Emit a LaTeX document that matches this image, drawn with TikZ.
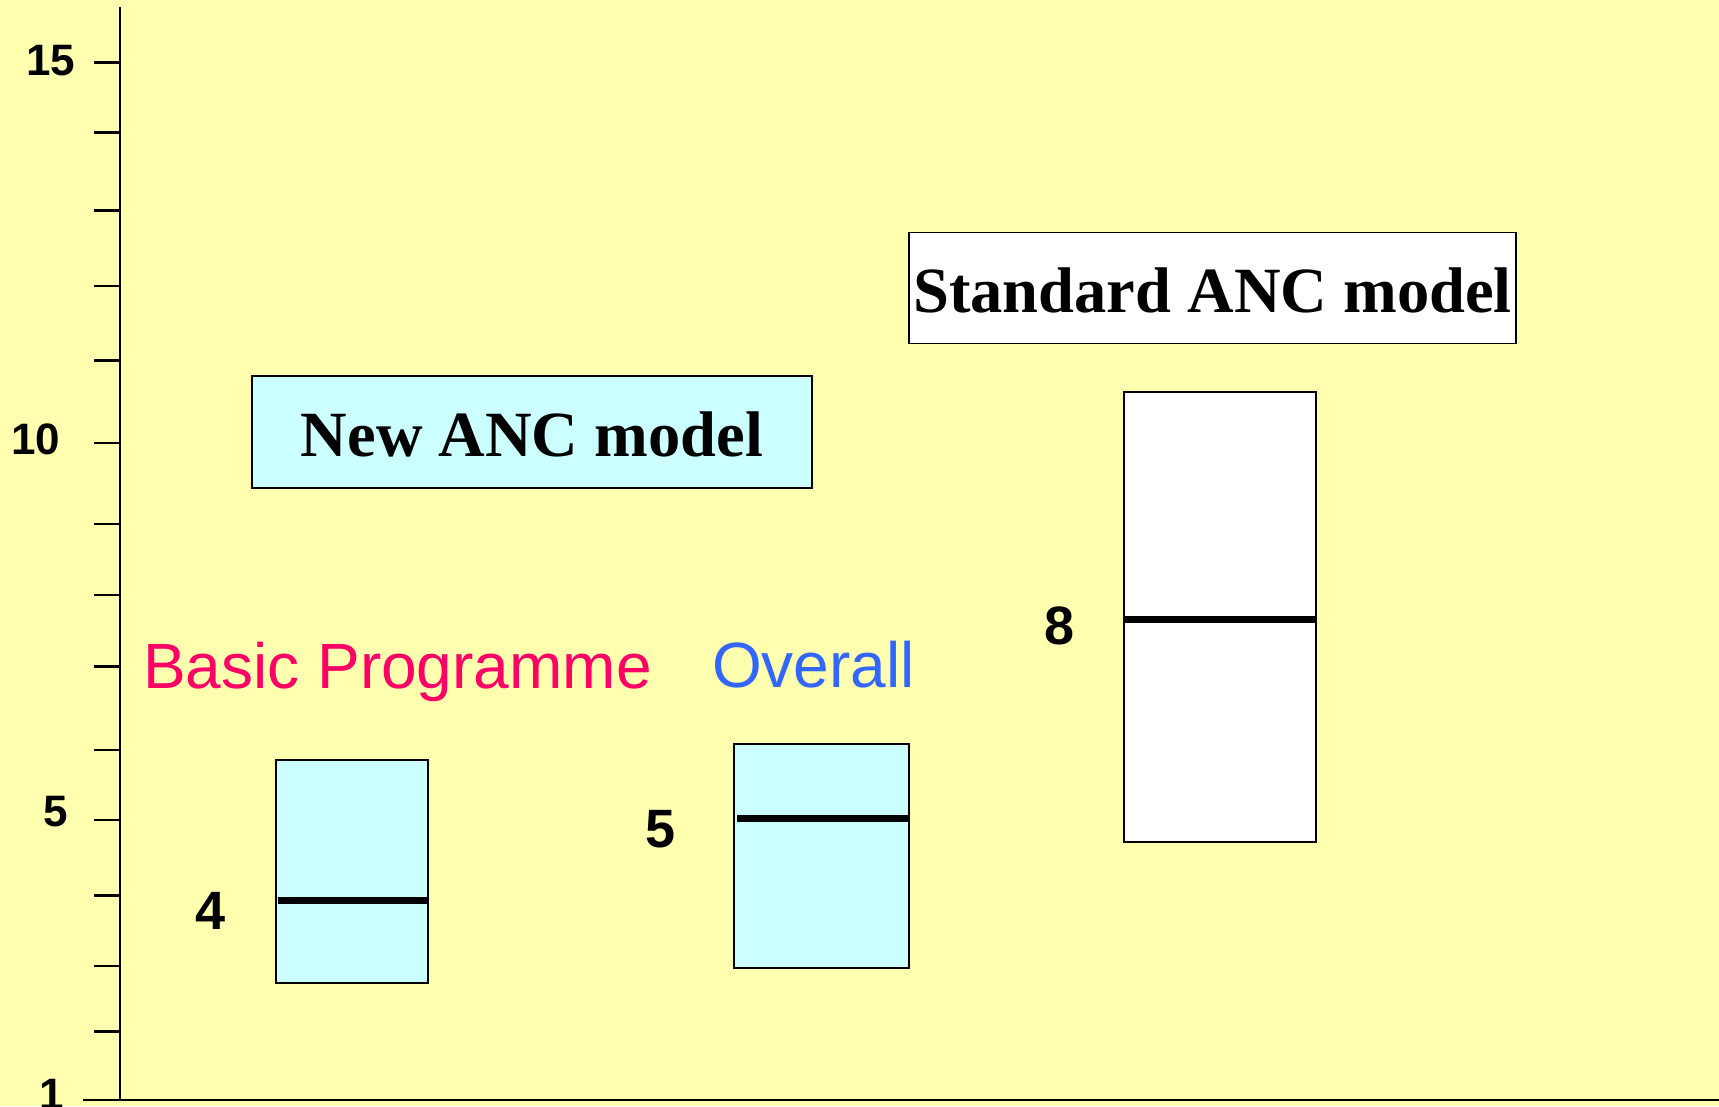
\documentclass[tikz,border=0pt]{standalone}
\usepackage{fontspec}
\setmainfont{Liberation Sans}
\newfontfamily\titlefont{Liberation Serif}
\definecolor{bgyellow}{RGB}{255,255,176}
\definecolor{boxcyan}{RGB}{204,255,255}
\definecolor{basicred}{RGB}{255,0,102}
\definecolor{overallblue}{RGB}{51,102,255}
\begin{document}
\begin{tikzpicture}[x=1pt,y=-1pt,
  axisline/.style={line width=2.5pt,black},
  databox/.style={draw=black,line width=2.2pt,inner sep=0pt},
  median/.style={line width=7pt,black},
  titlebox/.style={draw=black,line width=1.6pt,inner sep=0pt,
     font=\titlefont\bfseries\fontsize{64.5}{70}\selectfont,text height=48pt,text depth=0pt},
  ticklbl/.style={inner sep=0pt,font=\bfseries\fontsize{44}{50}\selectfont},
  numlbl/.style={inner sep=0pt,font=\bfseries\fontsize{54}{60}\selectfont},
  grouplbl/.style={inner sep=0pt,anchor=base west,font=\fontsize{64}{70}\selectfont}]
\fill[bgyellow] (0,0) rectangle (1719,1106);
\useasboundingbox (0,0) rectangle (1719,1106);
% axes
\draw[axisline] (120,7) -- (120,1100);
\draw[axisline] (83,1100) -- (1719,1100);
\foreach \y in {62.5,132.7,210.5,286,360.7,443,524,595,666.6,750,820,895.7,966,1031.6}
  \draw[axisline] (94,\y) -- (121,\y);
\node[ticklbl] (t15) at (50.5,61) {15};
\node[ticklbl] (t10) at (35.5,439) {10};
\node[ticklbl] (t5) at (56,812) {5};
\node[ticklbl] (t1) at (52,1094) {1};
% title boxes
\node[titlebox,fill=boxcyan,minimum width=560pt,minimum height=112pt] (newanc) at (532,432) {New ANC model};
\node[titlebox,fill=white,minimum width=607pt,minimum height=111pt] (stdanc) at (1212.5,288) {Standard ANC model};
% group labels
\node[grouplbl,text=basicred] (basic) at (143,688) {Basic Programme};
\node[grouplbl,text=overallblue] (overall) at (712,687) {Overall};
% data boxes
\node[databox,fill=boxcyan,minimum width=151.6pt,minimum height=223pt] (b1) at (351.8,871.5) {};
\node[databox,fill=boxcyan,minimum width=174.4pt,minimum height=224pt] (b2) at (821.5,855.7) {};
\node[databox,fill=white,minimum width=192pt,minimum height=450pt] (b3) at (1220,617) {};
\coordinate (m1) at (0,900);
\coordinate (m2) at (0,818.3);
\coordinate (m3) at (0,619);
\draw[median] ([xshift=3pt]b1.west |- m1) -- (b1.east |- m1);
\draw[median] ([xshift=4pt]b2.west |- m2) -- (b2.east |- m2);
\draw[median] (b3.west |- m3) -- (b3.east |- m3);
% value labels
\node[numlbl] (n4) at (211,911) {4};
\node[numlbl] (n5) at (660.5,829) {5};
\node[numlbl] (n8) at (1060,625.5) {8};
\end{tikzpicture}
\end{document}
